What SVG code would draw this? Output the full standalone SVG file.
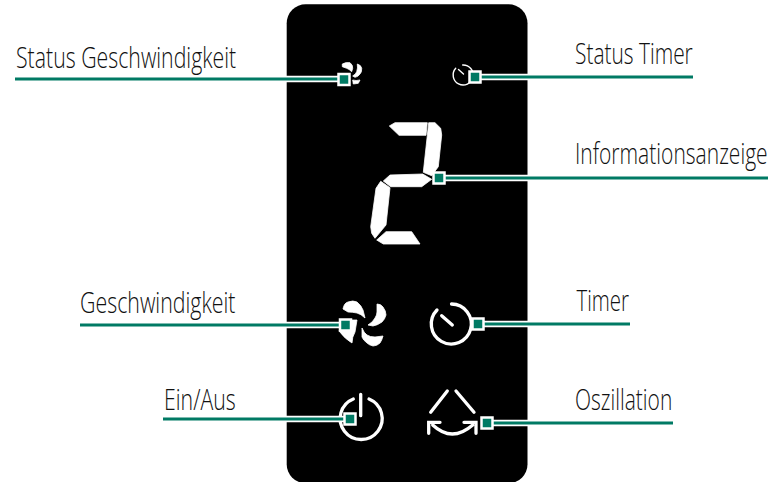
<svg xmlns="http://www.w3.org/2000/svg" width="774" height="482" viewBox="0 0 774 482">
<style>
text{font-family:"Open Sans","Liberation Sans",sans-serif;font-size:30px;font-weight:300;fill:#111}
.halo{fill:none;stroke:#fff;stroke-width:6.500}
.ln{fill:none;stroke:#007a64;stroke-width:3}
.sq{fill:#007a64;stroke:#fff;stroke-width:5;paint-order:stroke}
.w{fill:#fff;stroke:#fff;stroke-width:.8;stroke-linejoin:round}
.s{fill:none;stroke:#fff;stroke-linecap:round}
</style>
<rect width="774" height="482" fill="#fff"/>
<g id="panel"><rect x="286.700" y="4.300" width="240.800" height="479" rx="19" fill="#000"/></g>
<g id="node-status-fan"><path class="w" d="M342.300 64Q346 62 350 62.700Q353 65 352.700 68.300L351.700 71.700Q349 69 346.700 68.300L342.300 66.700zM357.300 64Q361 65 361.700 68.300Q362 72 360 74Q358 77 355 77.300L352.700 76Q356 74 356.700 71.700Q358 68 357.300 64zM352.700 80Q356 81 360 80L358.300 83.300L353.300 84z"/></g>
<g id="node-status-timer"><path class="s" stroke-width="1.400" d="M455.700 68.300A10 10 0 1 0 462.700 65M458.500 69.500l5 4.500"/></g>
<g id="node-display">
<path class="w" d="M389.300 126L395 122.700H427.300L426 135.300H399zM428.700 122.700H435L440.700 128.300L441.700 135L438.300 166.700L431.700 175.700L423.300 172.300zM383.300 181L390 175L422.700 174L431.700 179.300L421.700 186.700H390.700zM380.700 181.300L390 187.700L386 225L375 238.300L371.700 233.300L370.700 226.700L376 188.300zM386 231.700H411.700L420 244H383.300L376.700 240z"/>
</g>
<g id="node-fan"><path class="w" d="M343 309Q344 303 348 302Q353 300 357 302Q361 305 363 310L365 318Q361 314 357 313Q352 312 348 312zM377 304Q381 304 383 307Q386 311 386 315Q385 319 382 322Q378 325 373 326L368 325Q373 322 375 318Q377 315 377 312zM362 328Q364 333 367 335Q370 337 375 337L383 336Q382 340 380 343Q377 346 373 346Q369 345 367 343Q363 340 362 337zM346 320H357L355 332Q352 337 352 343Q345 339 339 331z"/></g>
<g id="node-timer"><path class="s" stroke-width="3.300" d="M437 310A20 20 0 1 0 451.500 304M441.700 315.700L452.300 325"/></g>
<g id="node-power"><path class="s" stroke-width="3.300" d="M353.300 399A21 21 0 1 0 369 399M360.700 394.300V415.700"/></g>
<g id="node-osc"><path class="s" stroke-width="3.300" d="M430.700 412.300L447.300 391M456 391L474 412.300M432.700 425Q452 443 472.700 425M428.700 433.300V422.300H440M476 433.300V422.300H464"/></g>
<g id="connectors">
<path class="halo" d="M15 79H344M475 77H693M439 178H768M80 325H345M478 324H630M163 419H350M487 423H673"/>
<path class="ln" d="M15 79H344M475 77H693M439 178H768M80 325H345M478 324H630M163 419H350M487 423H673"/>
<rect class="sq" x="339.750" y="75.250" width="8.500" height="8.500"/>
<rect class="sq" x="470.750" y="72.750" width="8.500" height="8.500"/>
<rect class="sq" x="434.750" y="173.750" width="8.500" height="8.500"/>
<rect class="sq" x="341.250" y="320.750" width="8.500" height="8.500"/>
<rect class="sq" x="473.750" y="319.750" width="8.500" height="8.500"/>
<rect class="sq" x="345.750" y="414.750" width="8.500" height="8.500"/>
<rect class="sq" x="482.750" y="418.750" width="8.500" height="8.500"/>
</g>
<g id="labels">
<text transform="translate(16 68) scale(.64 1)" textLength="344" lengthAdjust="spacingAndGlyphs">Status Geschwindigkeit</text>
<text transform="translate(575 63.500) scale(.64 1)" textLength="184" lengthAdjust="spacingAndGlyphs">Status Timer</text>
<text transform="translate(575 164) scale(.64 1)" textLength="301" lengthAdjust="spacingAndGlyphs">Informationsanzeige</text>
<text transform="translate(80 313) scale(.64 1)" textLength="243" lengthAdjust="spacingAndGlyphs">Geschwindigkeit</text>
<text transform="translate(576.500 310.500) scale(.64 1)" textLength="82" lengthAdjust="spacingAndGlyphs">Timer</text>
<text transform="translate(164 410) scale(.64 1)" textLength="112" lengthAdjust="spacingAndGlyphs">Ein/Aus</text>
<text transform="translate(575 410) scale(.64 1)" textLength="152" lengthAdjust="spacingAndGlyphs">Oszillation</text>
</g>
</svg>
